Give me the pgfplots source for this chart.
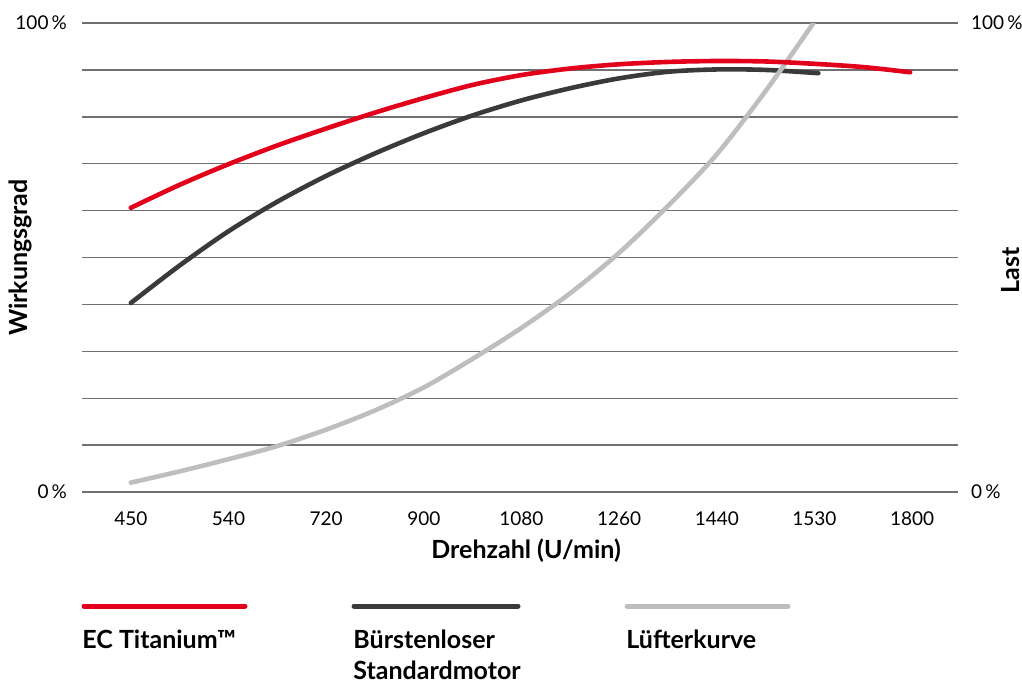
\documentclass[border=0pt]{standalone}
\usepackage{fontspec}
\setmainfont{Lato}
\usepackage{pgfplots}
\pgfplotsset{compat=1.18}

\definecolor{ecred}{HTML}{E2001A}
\definecolor{stddark}{HTML}{3A3A3A}
\definecolor{fangray}{HTML}{BEBEBE}
\definecolor{gridgray}{HTML}{707070}

\begin{document}
\begin{tikzpicture}
\useasboundingbox (0,0) rectangle (511pt,-341pt);

% common settings for both axes
\pgfplotsset{
  chartbase/.style={
    at={(41pt,-246pt)}, anchor=south west,
    scale only axis, width=438pt, height=234.5pt,
    xmin=-0.5, xmax=8.47, ymin=0, ymax=100,
    ytick={0,10,...,100},
    yticklabels={0\,\%,,,,,,,,,,100\,\%},
    axis line style={draw=none},
    tick style={draw=none},
    tick label style={font=\fontsize{9.5}{10}\selectfont, text=black},
    label style={font=\bfseries\fontsize{12.5}{13}\selectfont},
  },
}

\begin{axis}[
  chartbase,
  ymajorgrids,
  grid style={gridgray, line width=0.7pt},
  xtick={0,...,8},
  xticklabels={450,540,720,900,1080,1260,1440,1530,1800},
  xticklabel style={anchor=center, yshift=-13.5pt},
  yticklabel style={anchor=east, xshift=-4pt},
  xlabel={Drehzahl (U/min)},
  xlabel style={at={(axis description cs:0.507,-0.124)}, anchor=center},
  ylabel={Wirkungsgrad},
  ylabel style={at={(axis description cs:-0.0708,0.5)}, anchor=center},
  every axis plot/.append style={line width=2.3pt, line cap=round, smooth},
]
% Buerstenloser Standardmotor
\addplot[stddark] coordinates {
  (0,40.3) (0.5,48.3) (1.0,55.6) (1.5,61.9) (2.0,67.4) (2.5,72.2) (3.0,76.5)
  (3.5,80.3) (4.0,83.5) (4.5,86.1) (5.0,88.2) (5.5,89.6) (6.0,90.1) (6.5,90.0)
  (7.04,89.3)
};
% Luefterkurve
\addplot[fangray] coordinates {
  (0,2.0) (0.5,4.4) (1.0,7.0) (1.5,9.8) (2.0,13.3) (2.5,17.4) (3.0,22.3)
  (3.5,28.4) (4.0,35.0) (4.5,42.4) (5.0,51.0) (5.5,61.0) (6.0,72.0)
  (6.5,85.5) (6.99,100)
};
% EC Titanium
\addplot[ecred] coordinates {
  (0,60.6) (0.5,65.5) (1.0,69.9) (1.5,73.9) (2.0,77.5) (2.5,80.9) (3.0,84.0)
  (3.5,86.8) (4.0,88.9) (4.5,90.3) (5.0,91.2) (5.5,91.7) (6.0,91.9) (6.5,91.8)
  (7.0,91.3) (7.5,90.6) (7.98,89.5)
};
\end{axis}

% right-hand scale
\begin{axis}[
  chartbase,
  axis y line*=right,
  axis x line=none,
  yticklabel style={anchor=west, xshift=3pt},
  ylabel={Last},
  ylabel style={at={(axis description cs:1.0594,0.473)}, anchor=center, rotate=0},
]
\end{axis}

% legend
\begin{scope}[line width=2.5pt, line cap=round]
  \draw[ecred]   (42pt,-303pt)  -- (122.5pt,-303pt);
  \draw[stddark] (177pt,-303pt) -- (259pt,-303pt);
  \draw[fangray] (313.5pt,-303pt) -- (394pt,-303pt);
\end{scope}
\begin{scope}[every node/.style={inner sep=0pt, anchor=base west,
    font=\bfseries\fontsize{12.5}{15.5}\selectfont}]
  \node at (41pt,-324pt) {EC Titanium™};
  \node at (176.5pt,-324pt) {Bürstenloser};
  \node at (176.5pt,-339.5pt) {Standardmotor};
  \node at (313pt,-324pt) {Lüfterkurve};
\end{scope}
\end{tikzpicture}
\end{document}
